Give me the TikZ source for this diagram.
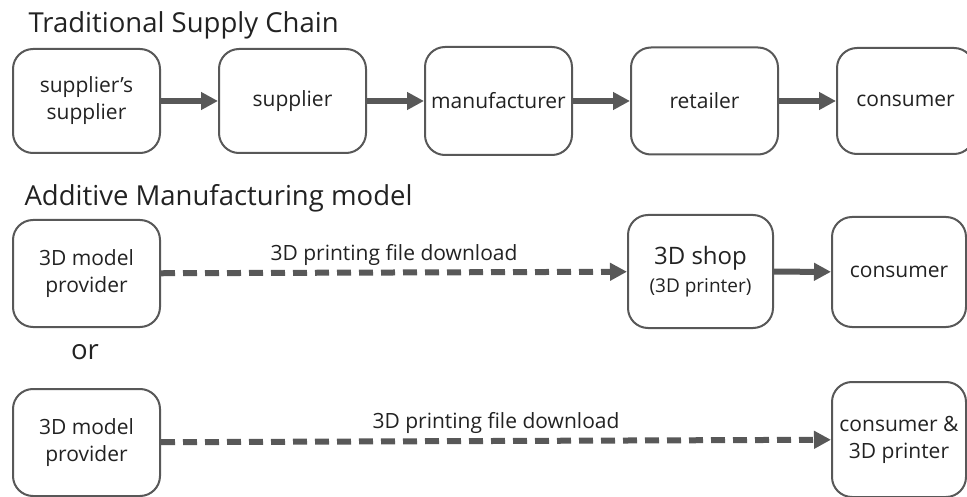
\documentclass[tikz,border=0pt]{standalone}
\usepackage{fontspec}
\setmainfont{Open Sans}
\usepackage{xcolor}
\usetikzlibrary{arrows.meta,positioning}
\definecolor{SCGray}{RGB}{88,88,88}
\definecolor{SCDark}{RGB}{34,34,34}

\begin{document}
\begin{tikzpicture}[
  x=1pt, y=1pt,
  node distance=57pt,
  box/.style={rounded corners=20pt, draw=SCGray, line width=2pt, fill=white, minimum width=147pt, minimum height=104pt, align=center, font=\fontsize{21}{27}\selectfont, text=SCDark},
  title/.style={anchor=west, font=\fontsize{27.5}{32}\selectfont, text=SCDark},
  line/.style={-{Triangle[length=17pt, width=17pt]}, line width=6pt, draw=SCGray},
  dline/.style={line, dash pattern=on 14pt off 8pt},
  lbl/.style={midway, above=1pt, font=\fontsize{21}{26}\selectfont, text=SCDark}
]
\useasboundingbox (0,0) rectangle (967,-497);

% traditional chain
\node[title] (tradtitle) at (25,-25) {Traditional Supply Chain};
\node[box] (ssup) at (86.5,-101) {supplier's\\supplier};
\node[box, right=of ssup] (sup) {supplier};
\node[box, right=of sup, minimum height=108pt] (manu) {manufacturer};
\node[box, right=of manu, minimum height=107pt] (ret) {retailer};
\node[box, right=of ret, minimum width=137pt, minimum height=106pt] (cons) {consumer};

\draw[line] (ssup) -- (sup);
\draw[line] (sup) -- (manu);
\draw[line] (manu) -- (ret);
\draw[line] (ret) -- (cons);

% additive manufacturing
\node[title] (amtitle) at (21,-198) {Additive Manufacturing model};
\node[box, minimum height=107pt] (prov) at (86.5,-273.5) {3D model\\provider};
\node[box, minimum width=145pt, minimum height=113pt] (shop) at (700.5,-271.5) {{\fontsize{24}{29}\selectfont 3D shop}\\[1pt]{\fontsize{19}{23}\selectfont (3D printer)}};
\node[box, minimum width=134pt, minimum height=110pt] (cons2) at (899,-272) {consumer};

\draw[dline] (prov) -- node[lbl] (dl1) {3D printing file download} (shop);
\draw[line] (shop) -- (cons2);

% or
\node[font=\fontsize{27.5}{32}\selectfont, text=SCDark] (ortxt) at (85,-352) {or};
\node[box, minimum height=107pt] (prov2) at (86.5,-442.5) {3D model\\provider};
\node[box, minimum width=134pt, minimum height=115pt] (both) at (899,-439.5) {consumer \&\\3D printer};

\draw[dline] (prov2) -- node[lbl] (dl2) {3D printing file download} (both);
\end{tikzpicture}
\end{document}
